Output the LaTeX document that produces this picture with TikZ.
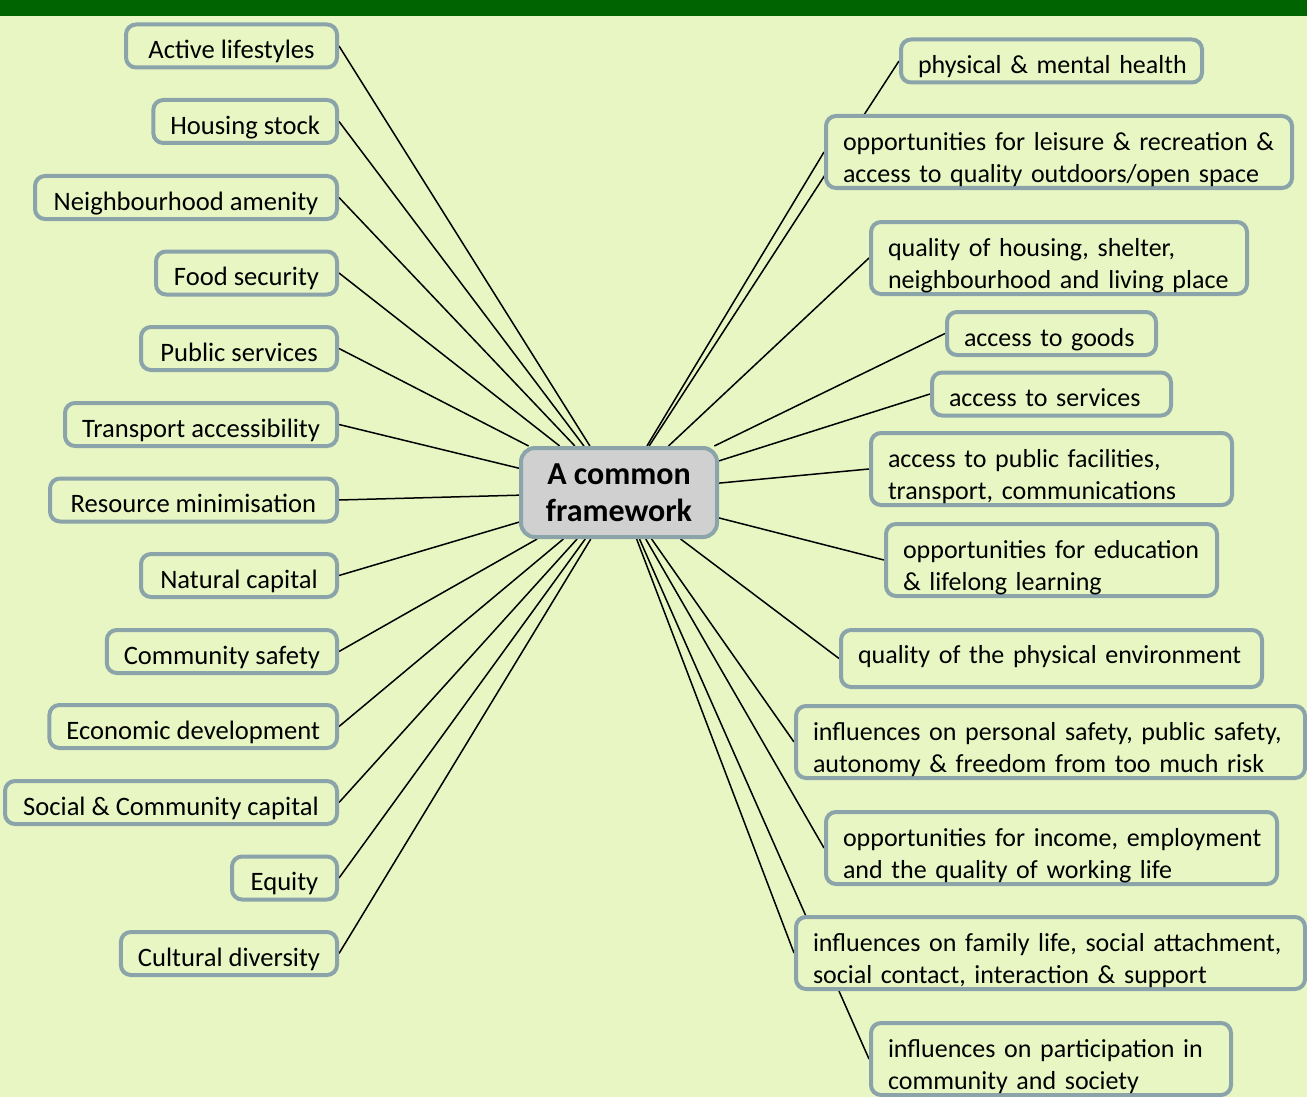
\documentclass[tikz,border=0pt]{standalone}
\usepackage{fontspec}
\setmainfont{Carlito}
\usetikzlibrary{backgrounds}
\definecolor{paper}{HTML}{E8F6C4}
\definecolor{bar}{HTML}{006400}
\definecolor{rim}{HTML}{8BA4AA}
\definecolor{hubgray}{HTML}{D0D0D0}
\tikzset{leaf/.style={draw=rim,line width=2pt,rounded corners=5pt,fill=paper,font=\fontsize{13.3}{15.4}\selectfont,inner xsep=8.5pt,inner ysep=1pt,minimum height=21.5pt,text height=15pt,text depth=2.5pt},
lleaf/.style={leaf,anchor=east,align=right},
rleaf/.style={leaf,anchor=west,align=left,font=\fontsize{13}{15.7}\selectfont},
twoline/.style={minimum height=36pt,text height=13pt,text depth=14.2pt},
hub/.style={draw=rim,line width=2pt,rounded corners=7pt,fill=hubgray,font=\fontsize{16}{18.5}\selectfont\bfseries,align=center,minimum width=98pt,minimum height=44.5pt,inner sep=2pt},
link/.style={line width=0.75pt}}
\begin{document}
\begin{tikzpicture}[x=0.5pt,y=-0.5pt]
\useasboundingbox (0,0) rectangle (1307,1097);
\node[hub] (hub) at (619,492.5) {A common\\framework};
% left: the planning themes
\foreach \t/\y/\w [count=\i] in {Active lifestyles/46/105.5,Housing stock/121.5/90.5,Neighbourhood amenity/197.5/151,Food security/273/90.5,Public services/348.5/98,Transport accessibility/424.5/136,Resource minimisation/500/143.5,Natural capital/575.5/98,Community safety/651.5/113,Economic development/726.5/143.5,Social \& Community capital/802.5/166,Equity/878/52.5,Cultural diversity/953.5/105.5}
  {\node[lleaf,minimum width=\w pt] (L\i) at (339,\y) {\t};}
% right: the determinants (one \mbox per line, so no line is broken)
\node[rleaf,text width=133.5pt] (R1) at (899,61) {\mbox{physical \& mental health}};
\node[rleaf,twoline,text width=216pt] (R2) at (824,152) {\mbox{opportunities for leisure \& recreation \&}\\\mbox{access to quality outdoors/open space}};
\node[rleaf,twoline,text width=171pt] (R3) at (869,258) {\mbox{quality of housing, shelter,}\\\mbox{neighbourhood and living place}};
\node[rleaf,text width=87.5pt] (R4) at (945,333.5) {\mbox{access to goods}};
\node[rleaf,text width=102.5pt] (R5) at (930,394) {\mbox{access to services}};
\node[rleaf,twoline,text width=163.5pt] (R6) at (869,469) {\mbox{access to public facilities,}\\\mbox{transport, communications}};
\node[rleaf,twoline,text width=148.5pt] (R7) at (884,560) {\mbox{opportunities for education}\\\mbox{\& lifelong learning}};
\node[rleaf,minimum height=28.5pt,text height=10.5pt,text depth=5.8pt,text width=193.5pt] (R8) at (839,658.5) {\mbox{quality of the physical environment}};
\node[rleaf,twoline,text width=237.5pt] (R9) at (794,742) {\mbox{influences on personal safety, public safety,}\\\mbox{autonomy \& freedom from too much risk}};
\node[rleaf,twoline,text width=208.5pt] (R10) at (824,848) {\mbox{opportunities for income, employment}\\\mbox{and the quality of working life}};
\node[rleaf,twoline,text width=237.5pt] (R11) at (794,953) {\mbox{influences on family life, social attachment,}\\\mbox{social contact, interaction \& support}};
\node[rleaf,twoline,text width=163pt] (R12) at (869,1059) {\mbox{influences on participation in}\\\mbox{community and society}};
\fill[bar] (0,0) rectangle (1307,16);
\begin{scope}[on background layer]
\fill[paper] (0,0) rectangle (1307,1097);
\foreach \i in {1,...,13}{\draw[link] (L\i.east) -- (hub);}
\foreach \i in {1,...,12}{\draw[link] (R\i.west) -- (hub);}
\end{scope}
\end{tikzpicture}
\end{document}
